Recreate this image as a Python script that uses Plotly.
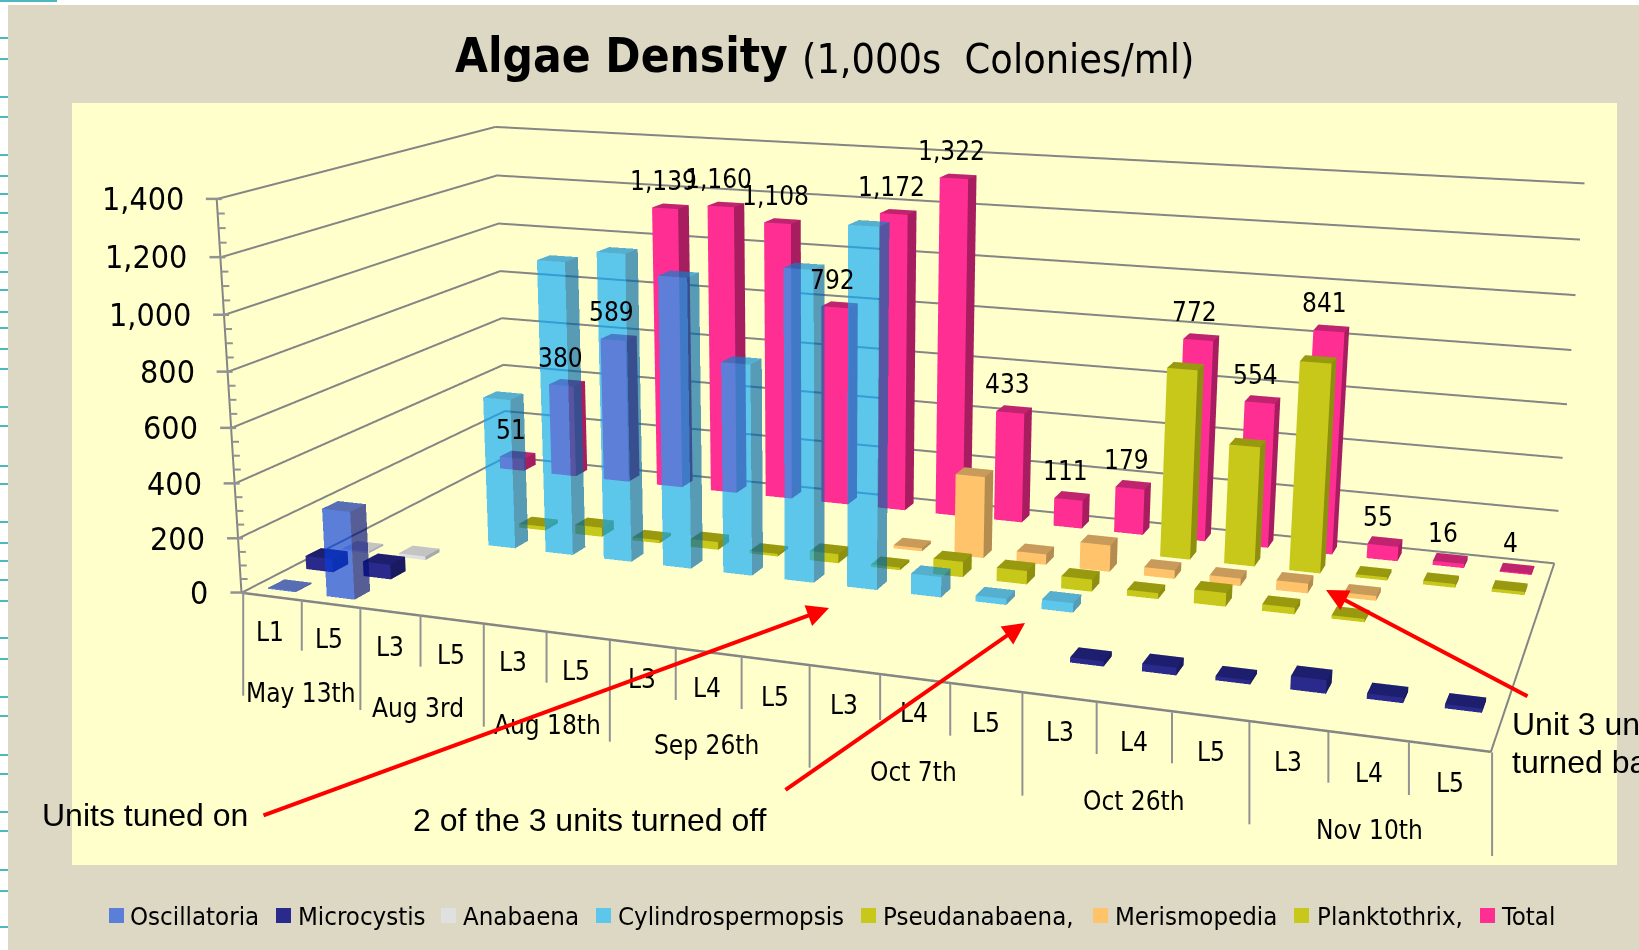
import math
import numpy as np
import plotly.graph_objects as go

# ---------- data ----------
categories = ["L1","L5","L3","L5","L3","L5","L3","L4","L5","L3","L4","L5","L3","L4","L5","L3","L4","L5"]
dates = ["May 13th","Aug 3rd","Aug 18th","Sep 26th","Oct 7th","Oct 26th","Nov 10th"]
oscillatoria   = [4,320,0,0,0,0,0,0,0,0,0,0,0,0,0,0,0,0]
microcystis    = [50,55,0,0,0,0,0,0,0,0,0,0,18,26,14,45,18,14]
anabaena       = [7,14,0,0,0,0,0,0,0,0,0,0,0,0,0,0,0,0]
cylindrospermopsis = [0,0,570,1100,1145,1075,780,1135,1300,75,22,34,0,0,0,0,0,0]
pseudanabaena  = [0,0,15,36,12,30,10,35,10,58,50,45,22,50,24,12,0,0]
merismopedia   = [0,0,0,0,0,0,0,0,12,310,40,100,32,28,36,18,0,0]
planktothrix   = [0,0,0,0,0,0,0,0,0,0,0,0,715,450,778,12,14,12]
total          = [51,380,589,1139,1160,1108,792,1172,1322,433,111,179,772,554,841,55,16,4]
z_ticks = [0,200,400,600,800,1000,1200,1400]

# name, values, legend colour, front, top, side, opacity
series = [
 ("Oscillatoria", oscillatoria, "#5B7FD8", "rgb(6,61,222)", "rgb(0,35,168)", "rgb(0,11,122)", 0.66),
 ("Microcystis", microcystis, "#2A2A8C", "#2A2A8C", "#1E1E6E", "#1A1A60", 1),
 ("Anabaena", anabaena, "#E0E0E0", "#E0E0E0", "#C4C4C4", "#A8A8A8", 1),
 ("Cylindrospermopsis", cylindrospermopsis, "#5DC6EB", "rgb(10,169,251)", "rgb(0,134,208)", "rgb(0,103,168)", 0.66),
 ("Pseudanabaena,", pseudanabaena, "#C8C81A", "#C8C81A", "#99990F", "#8F8F0F", 1),
 ("Merismopedia", merismopedia, "#FFC46B", "#FFC46B", "#C89B5A", "#B58C50", 1),
 ("Planktothrix,", planktothrix, "#C8C81A", "#C8C81A", "#99990F", "#8F8F0F", 1),
 ("Total", total, "#FF2E93", "#FF2E93", "#C0246F", "#A81D5F", 1),
]

# ---------- view ----------
W, H, TOP = 1639, 2100, 575
eye = np.array([1.3772,-4.0845,1.0164]); center = np.array([0.0531,-0.5946,0.0])
up = np.array([-0.0157,0.0401,1.0]); aspect = np.array([2.1291,0.9934,0.6925])
XR, YR, ZR = 18.0, 8.0, 1400.0

def project(x, y, z):
    m = (np.array([x,y,z],float)/np.array([XR,YR,ZR])-0.5)*aspect
    f = center-eye; f = f/np.linalg.norm(f)
    s = np.cross(f,up); s = s/np.linalg.norm(s); u = np.cross(s,f)
    d = m-eye; zz = d@f; F = (H/2)/math.tan(math.pi/8)
    return W/2+F*(d@s)/zz, 475-F*(d@u)/zz

def px(x): return x/W
def py(y): return 1-(y+TOP)/H

BAR_W, BAR_D = 0.47, 0.42
fig = go.Figure()

# grid lines and floor
lx, ly, lz = [], [], []
for t in z_ticks:
    lx += [0,0,XR,None]; ly += [0,YR,YR,None]; lz += [t,t,t,None]
lx += [XR,XR,None,0,0,None]; ly += [YR,0,None,0,0,None]; lz += [0,0,None,0,1400,None]
fig.add_trace(go.Scatter3d(x=lx,y=ly,z=lz,mode="lines",line=dict(color="#858585",width=4),hoverinfo="skip",showlegend=False))
fig.add_trace(go.Scatter3d(x=[0,XR],y=[0,0],z=[0,0],mode="lines",line=dict(color="#858585",width=5),hoverinfo="skip",showlegend=False))

# bars: only the faces the viewer sees (front, right side, top)
for row,(name,vals,leg,cf,ct,cs,op) in enumerate(series):
    X,Y,Z,I,J,K,FC = [],[],[],[],[],[],[]
    for c,v in enumerate(vals):
        if not v: continue
        x0,x1 = c+.5-BAR_W/2, c+.5+BAR_W/2
        y0,y1 = row+.5-BAR_D/2, row+.5+BAR_D/2
        b = len(X)
        X += [x0,x1,x1,x0,x0,x1,x1,x0]; Y += [y0,y0,y1,y1,y0,y0,y1,y1]; Z += [0,0,0,0,v,v,v,v]
        for tri,col in [((0,1,5),cf),((0,5,4),cf),((1,2,6),cs),((1,6,5),cs),((4,5,6),ct),((4,6,7),ct)]:
            I.append(b+tri[0]); J.append(b+tri[1]); K.append(b+tri[2]); FC.append(col)
    fig.add_trace(go.Mesh3d(x=X,y=Y,z=Z,i=I,j=J,k=K,facecolor=FC,opacity=op,flatshading=True,name=name,
        lighting=dict(ambient=1,diffuse=0,specular=0,fresnel=0,roughness=1),hoverinfo="skip",showlegend=False))

# ---------- page furniture ----------
TAN, YEL, GREY = "#DCD8C4", "#FFFFCC", "#929292"
shapes = []
def rect(x0,y0,x1,y1,c):
    shapes.append(dict(type="rect",xref="paper",yref="paper",x0=px(x0),x1=px(x1),y0=py(y0),y1=py(y1),fillcolor=c,line=dict(width=0)))
def line(x0,y0,x1,y1,c=GREY,w=2):
    shapes.append(dict(type="line",xref="paper",yref="paper",x0=px(x0),x1=px(x1),y0=py(y0),y1=py(y1),line=dict(color=c,width=w)))
rect(0,-600,W,5,"#FFFFFF"); rect(0,-600,8,1600,"#FFFFFF")
rect(8,5,W,103,TAN); rect(8,865,W,1600,TAN); rect(8,103,72,865,TAN); rect(1617,103,W,865,TAN)
rect(0,0,57,2,"#4DB8C0")
for y in [38,59,97,117,155,176,194,213,232,253,272,290,312,328,349,369,407,426,466,484,522,543,561,580,601,638,659,697,716,755,774,812,831,870,891,927]:
    rect(0,y-1,8,y+1,"#4DB8C0")

# z axis ticks
for t in range(0,1401,50):
    x,y = project(0,0,t)
    if t%200==0: line(x-11,y,x+5,y,GREY,2.5)
    else: line(x,y,x+7,y,GREY,2)

# category dividers
dx = [v/1.912 for v in [465,577,689,804,925,1045,1166,1292,1418,1548]]+[820+v/1.912 for v in [115,249,387,529,673,821,972,1126,1285]]
dtop = [500+v/3 for v in [275,300,322,345,370,395,420,445,470,497,522,548,577,605,637,665,695,727,757]]
dend = [500+v/3 for v in [587,452,630,500,680,548,725,600,627,803,660,707,887,762,790,973,848,885,1068]]
for a,b,c in zip(dx,dtop,dend): line(a,b,a,c,GREY,2)

# legend swatches
legend_sq = [109,276,441,596,861,1093,1294,1480]
legend_tx = [128,296,461,616,881,1113,1315,1499]
for s,a in zip(series,legend_sq): rect(a,908,a+15,923,s[2])

FONT = "DejaVu Sans Condensed, DejaVu Sans"
ann = []
def text(x,y,s,size,color="#000",fam=FONT,anchor="center",bold=False):
    ann.append(dict(xref="paper",yref="paper",x=px(x),y=py(y),text=("<b>%s</b>"%s if bold else s),showarrow=False,
        xanchor=anchor,yanchor="middle",font=dict(family=fam,size=size,color=color)))
text(453,55,"Algae Density",47.3,anchor="left",bold=True)
text(800,59,"(1,000s&nbsp;&nbsp;Colonies/ml)",41,anchor="left")
for s,a in zip(series,legend_tx): text(a,916,s[0],25.6,anchor="left")

l1x = [v/1.912 for v in [517,630,745,862,980,1102,1228,1352,1482]]+[820+v/1.912 for v in [46,180,317,459,601,748,895,1050,1205]]
l1y = [500+v/3 for v in [395,418,440,465,487,513,538,565,592,615,640,670,697,725,755,787,818,848]]
for s,a,b in zip(categories,l1x,l1y): text(a,b,s,26)
l2x = [301,418,547,706,914,1134,1369]; l2y = [693,708,725,745,772,801,830]
for s,a,b in zip(dates,l2x,l2y): text(a,b,s,26)

ARIAL = "Liberation Sans"
text(40,815,"Units tuned on",32,fam=ARIAL,anchor="left")
text(411,820,"2 of the 3 units turned off",32,fam=ARIAL,anchor="left")
text(1510,724,"Unit 3 un",32,fam=ARIAL,anchor="left")
text(1510,762,"turned ba",32,fam=ARIAL,anchor="left")
for (x0,y0,x1,y1) in [(262,816,829,608),(784,791,1025,623),(1529,697,1326,590)]:
    ann.append(dict(xref="paper",yref="paper",x=px(x1),y=py(y1),ax=x0-x1,ay=y0-y1,axref="pixel",ayref="pixel",
        showarrow=True,arrowhead=2,arrowsize=1.1,arrowwidth=4,arrowcolor="#FF0000",text=""))

# labels tied to the 3D scales
scene_ann = []
for c,v in enumerate(total):
    scene_ann.append(dict(x=c+.5,y=7.5,z=v,text=format(v,","),showarrow=False,xanchor="center",yanchor="middle",
        xshift=-7,yshift=25,font=dict(family=FONT,size=26,color="#000")))
for t in z_ticks:
    scene_ann.append(dict(x=0,y=0,z=t,text=format(t,","),showarrow=False,xanchor="right",yanchor="middle",
        xshift=-31,font=dict(family=FONT,size=32,color="#000")))

noax = dict(visible=False,autorange=False,showspikes=False)
fig.update_layout(
    width=W,height=H,margin=dict(l=0,r=0,t=0,b=0),autosize=False,paper_bgcolor="rgba(0,0,0,0)",
    showlegend=False,shapes=shapes,annotations=ann,
    scene=dict(domain=dict(x=[0,1],y=[0,1]),bgcolor=YEL,
        xaxis=dict(range=[0,XR],**noax),yaxis=dict(range=[0,YR],**noax),zaxis=dict(range=[0,ZR],**noax),
        aspectmode="manual",aspectratio=dict(x=aspect[0],y=aspect[1],z=aspect[2]),
        camera=dict(eye=dict(x=eye[0],y=eye[1],z=eye[2]),center=dict(x=center[0],y=center[1],z=center[2]),up=dict(x=up[0],y=up[1],z=up[2]),
                    projection=dict(type="perspective")),
        annotations=scene_ann))

css = ("body{margin:0;overflow:hidden;background:#fff}"
       ".plotly-graph-div{position:absolute!important;top:-%dpx;left:0}"
       ".gl-container{position:absolute;z-index:0}.main-svg{z-index:1}"%TOP)
post = "var s=document.createElement('style');s.textContent=%r;document.head.appendChild(s);"%css
fig.write_html("out.html",post_script=post,config=dict(displayModeBar=False))
